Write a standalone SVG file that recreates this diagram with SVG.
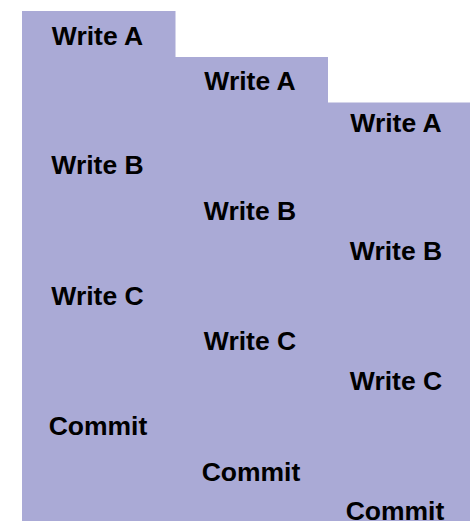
<svg xmlns="http://www.w3.org/2000/svg" width="470" height="521" viewBox="0 0 470 521">
  <style>
    .band { fill: #aaaad6; }
    .op { font-family: "Liberation Sans", Arial, sans-serif; font-weight: bold; font-size: 26.5px; fill: #000; text-anchor: middle; }
  </style>
  <rect width="470" height="521" fill="#ffffff"/>
  <!-- staggered background band -->
  <polygon class="band" points="22,11 175.5,11 175.5,57 328,57 328,102.5 470,102.5 470,521 22,521"/>
  <g id="column-1">
    <text class="op" x="97.5" y="44.5">Write A</text>
    <text class="op" x="97.5" y="174">Write B</text>
    <text class="op" x="97.5" y="304.5">Write C</text>
    <text class="op" x="98" y="435">Commit</text>
  </g>
  <g id="column-2">
    <text class="op" x="250" y="90">Write A</text>
    <text class="op" x="250" y="219.5">Write B</text>
    <text class="op" x="250" y="350">Write C</text>
    <text class="op" x="251" y="481">Commit</text>
  </g>
  <g id="column-3">
    <text class="op" x="396" y="132">Write A</text>
    <text class="op" x="396" y="259.5">Write B</text>
    <text class="op" x="396" y="390">Write C</text>
    <text class="op" x="395" y="520">Commit</text>
  </g>
</svg>
